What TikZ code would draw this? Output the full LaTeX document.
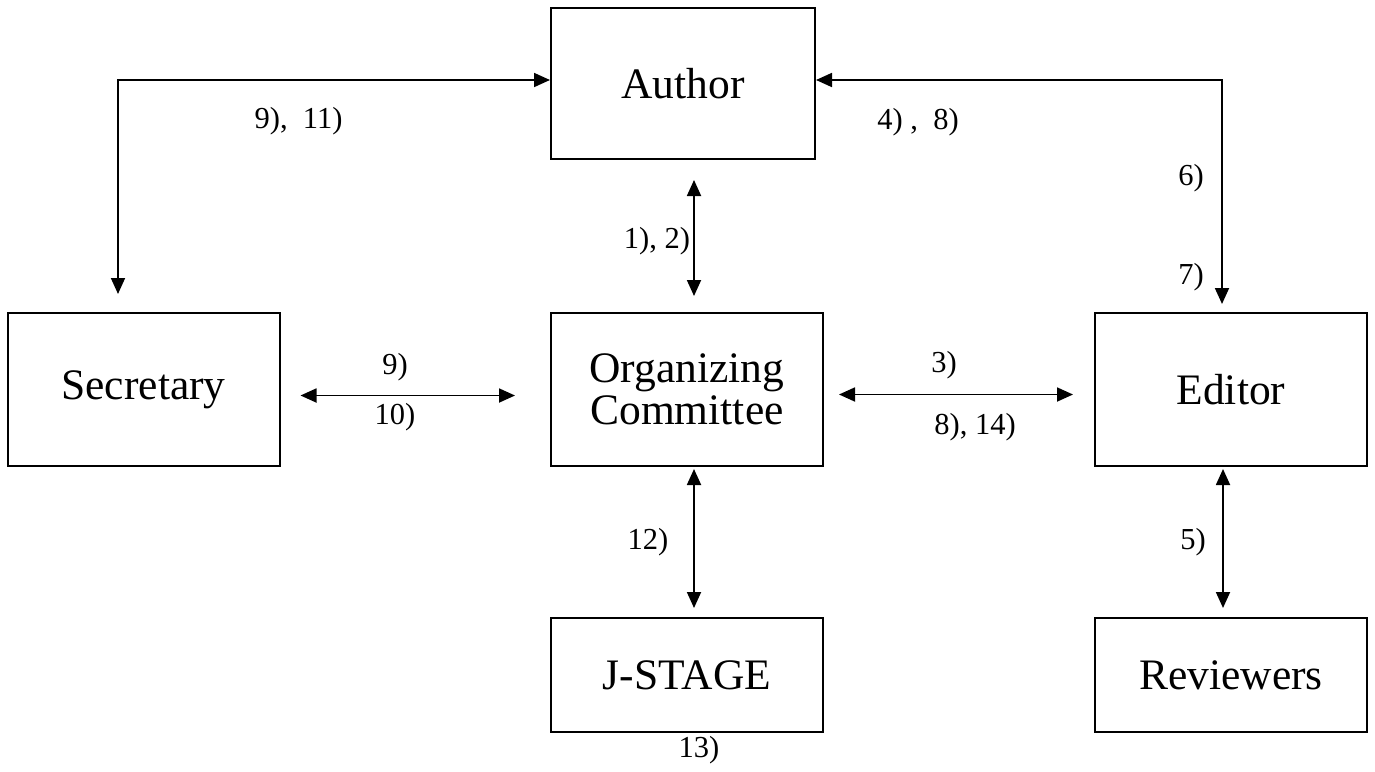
\documentclass[tikz,border=0pt]{standalone}
\usepackage{fontspec}
\setmainfont{Liberation Serif}
\usetikzlibrary{arrows.meta}

\begin{document}
\begin{tikzpicture}[x=1pt, y=-1pt,
    entity/.style={draw, rectangle, line width=2pt, minimum width=272pt, align=center, font=\fontsize{43.5}{42}\selectfont},
    flow/.style={line width=1.8pt, {Triangle[length=16pt,width=14pt]}-{Triangle[length=16pt,width=14pt]}},
    num/.style={inner sep=0pt, font=\fontsize{30.5}{34}\selectfont}]
    \useasboundingbox (0,0) rectangle (1375,771);

    % boxes
    \node[entity, minimum width=264pt, minimum height=151pt] (author) at (683,83.5) {Author};
    \node[entity, minimum height=153pt] (secretary) at (143.5,389.5) {Secretary};
    \node[entity, minimum height=153pt] (org) at (687,389.5) {Organizing\\Committee};
    \node[entity, minimum height=153pt] (editor) at (1231,389.5) {Editor};
    \node[entity, minimum height=114pt] (jstage) at (687,675) {J-STAGE};
    \node[entity, minimum height=114pt] (reviewers) at (1231,675) {Reviewers};

    % arrows
    \draw[flow, shorten <=20pt, shorten >=16pt] ([xshift=11pt]author.south) -- ([xshift=7pt]org.north);
    \draw[flow, shorten <=20pt, shorten >=35pt] ([yshift=-6pt]secretary.east) -- ([yshift=-6pt]org.west);
    \draw[flow, shorten <=15pt, shorten >=21pt] ([yshift=-5pt]org.east) -- ([yshift=-5pt]editor.west);
    \draw[flow, shorten <=2pt, shorten >=9pt] ([xshift=7pt]org.south) -- ([xshift=7pt]jstage.north);
    \draw[flow, shorten <=2pt, shorten >=9pt] ([xshift=-8pt]editor.south) -- ([xshift=-8pt]reviewers.north);
    \draw[flow, shorten <=18pt] ([xshift=-25.5pt]secretary.north) |- ([yshift=3.5pt]author.west);
    \draw[flow, shorten >=8pt] ([yshift=3.5pt]author.east) -| ([xshift=-9pt]editor.north);

    % labels
    \node[num] (l911) at (298.5,121.5) {9),\ \ 11)};
    \node[num] (l12) at (657,241.5) {1), 2)};
    \node[num] (l48) at (918,122) {4) ,\ \ 8)};
    \node[num] (l6) at (1191,178) {6)};
    \node[num] (l7) at (1191,277) {7)};
    \node[num] (l9) at (395,367) {9)};
    \node[num] (l10) at (395,417) {10)};
    \node[num] (l3) at (944,365) {3)};
    \node[num] (l814) at (975,427) {8), 14)};
    \node[num] (l12b) at (648,542) {12)};
    \node[num] (l5) at (1193,542) {5)};
    \node[num] (l13) at (699,750) {13)};
\end{tikzpicture}
\end{document}
